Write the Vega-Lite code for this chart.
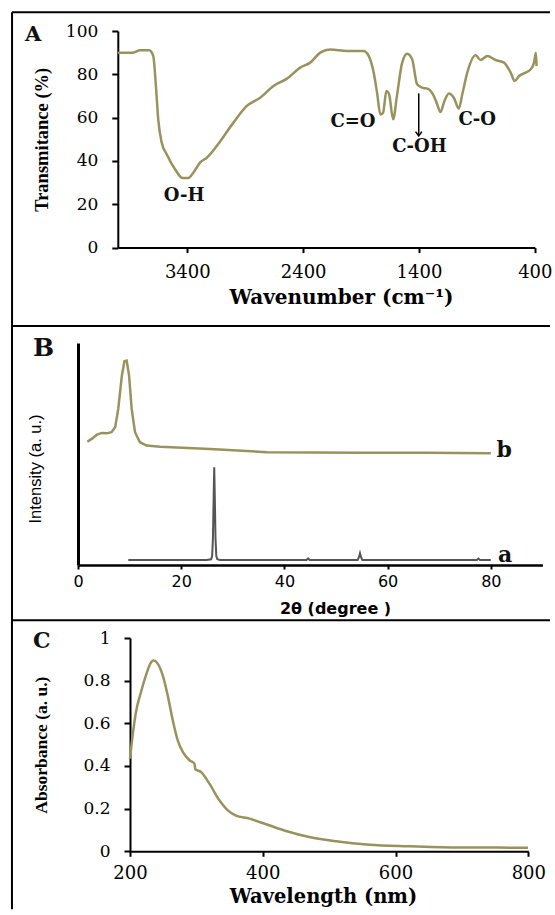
{
  "$schema": "https://vega.github.io/schema/vega-lite/v6.json",
  "background": "white",
  "padding": {"left": 10, "top": 11, "right": 0, "bottom": 0},
  "columns": 1,
  "align": "none",
  "spacing": -5,
  "config": {
    "view": {"stroke": null},
    "axis": {"grid": false, "domainColor": "black", "tickColor": "black", "labelColor": "black", "titleColor": "black", "labelOverlap": false, "labelFlush": false}
  },
  "datasets": {
    "one": [{}],
    "ftir": [
      {"wn": 4000, "T": 90.0}, {"wn": 3867, "T": 90.0}, {"wn": 3809, "T": 91.1}, {"wn": 3729, "T": 91.1}, {"wn": 3694, "T": 88.5},
      {"wn": 3671, "T": 74.6}, {"wn": 3651, "T": 59.2}, {"wn": 3621, "T": 48.5}, {"wn": 3578, "T": 43.1}, {"wn": 3506, "T": 36.2},
      {"wn": 3440, "T": 32.1}, {"wn": 3391, "T": 32.1}, {"wn": 3348, "T": 34.6}, {"wn": 3290, "T": 39.2}, {"wn": 3232, "T": 41.5},
      {"wn": 3146, "T": 46.9}, {"wn": 3002, "T": 57.7}, {"wn": 2886, "T": 65.4}, {"wn": 2771, "T": 69.2}, {"wn": 2656, "T": 74.6},
      {"wn": 2540, "T": 78.0}, {"wn": 2425, "T": 83.1}, {"wn": 2339, "T": 85.4}, {"wn": 2252, "T": 90.0}, {"wn": 2166, "T": 91.5},
      {"wn": 2021, "T": 90.8}, {"wn": 1878, "T": 90.8}, {"wn": 1834, "T": 88.5}, {"wn": 1791, "T": 80.8}, {"wn": 1762, "T": 71.6},
      {"wn": 1733, "T": 61.5}, {"wn": 1710, "T": 62.3}, {"wn": 1681, "T": 72.3}, {"wn": 1658, "T": 70.8}, {"wn": 1623, "T": 59.2},
      {"wn": 1589, "T": 70.5}, {"wn": 1545, "T": 85.4}, {"wn": 1502, "T": 89.5}, {"wn": 1459, "T": 87.0}, {"wn": 1416, "T": 75.4},
      {"wn": 1373, "T": 73.9}, {"wn": 1315, "T": 73.1}, {"wn": 1272, "T": 70.0}, {"wn": 1243, "T": 66.2}, {"wn": 1214, "T": 62.6},
      {"wn": 1180, "T": 67.7}, {"wn": 1142, "T": 71.2}, {"wn": 1099, "T": 69.2}, {"wn": 1056, "T": 64.2}, {"wn": 1026, "T": 70.8},
      {"wn": 983, "T": 80.8}, {"wn": 911, "T": 88.8}, {"wn": 868, "T": 86.6}, {"wn": 810, "T": 88.5}, {"wn": 738, "T": 86.6},
      {"wn": 666, "T": 85.4}, {"wn": 608, "T": 80.8}, {"wn": 574, "T": 76.9}, {"wn": 536, "T": 79.2}, {"wn": 479, "T": 80.8},
      {"wn": 435, "T": 82.3}, {"wn": 407, "T": 85.4}, {"wn": 390, "T": 90.0}, {"wn": 385, "T": 83.8}
    ],
    "ftirLabels": [
      {"label": "O-H", "wn": 3427, "T": 21.5},
      {"label": "C=O", "wn": 1970, "T": 55.9},
      {"label": "C-OH", "wn": 1396, "T": 44.1},
      {"label": "C-O", "wn": 897, "T": 56.6}
    ],
    "panelA": [{"label": "A", "wn": 4801, "T": 95.2}],
    "xrd": [
      {"sample": "b", "theta": 1.8, "I": 55.5}, {"sample": "b", "theta": 2.65, "I": 56.8}, {"sample": "b", "theta": 3.6, "I": 58.6},
      {"sample": "b", "theta": 4.6, "I": 59.5}, {"sample": "b", "theta": 5.55, "I": 59.3}, {"sample": "b", "theta": 6.5, "I": 59.8},
      {"sample": "b", "theta": 7.2, "I": 62.0}, {"sample": "b", "theta": 7.8, "I": 70.3}, {"sample": "b", "theta": 8.5, "I": 85.3},
      {"sample": "b", "theta": 9.0, "I": 91.8}, {"sample": "b", "theta": 9.43, "I": 92.1}, {"sample": "b", "theta": 9.9, "I": 85.3},
      {"sample": "b", "theta": 10.4, "I": 70.3}, {"sample": "b", "theta": 11.05, "I": 59.8}, {"sample": "b", "theta": 12.0, "I": 55.3},
      {"sample": "b", "theta": 13.3, "I": 53.8}, {"sample": "b", "theta": 15.9, "I": 53.3}, {"sample": "b", "theta": 25.6, "I": 52.3},
      {"sample": "b", "theta": 36.6, "I": 50.8}, {"sample": "b", "theta": 54.7, "I": 50.6}, {"sample": "b", "theta": 67.6, "I": 50.6},
      {"sample": "b", "theta": 80.0, "I": 50.3},
      {"sample": "a", "theta": 9.75, "I": 2.25}, {"sample": "a", "theta": 15.0, "I": 2.3}, {"sample": "a", "theta": 20.0, "I": 2.2},
      {"sample": "a", "theta": 24.9, "I": 2.3}, {"sample": "a", "theta": 25.8, "I": 2.6}, {"sample": "a", "theta": 26.0, "I": 4.0},
      {"sample": "a", "theta": 26.15, "I": 12.0}, {"sample": "a", "theta": 26.3, "I": 32.0}, {"sample": "a", "theta": 26.4, "I": 44.0},
      {"sample": "a", "theta": 26.5, "I": 32.0}, {"sample": "a", "theta": 26.65, "I": 12.0}, {"sample": "a", "theta": 26.8, "I": 4.0},
      {"sample": "a", "theta": 27.0, "I": 2.6}, {"sample": "a", "theta": 27.5, "I": 2.3}, {"sample": "a", "theta": 35.0, "I": 2.2},
      {"sample": "a", "theta": 44.3, "I": 2.3}, {"sample": "a", "theta": 44.6, "I": 3.0}, {"sample": "a", "theta": 44.9, "I": 2.3},
      {"sample": "a", "theta": 54.2, "I": 2.3}, {"sample": "a", "theta": 54.45, "I": 3.5}, {"sample": "a", "theta": 54.65, "I": 5.3},
      {"sample": "a", "theta": 54.85, "I": 3.5}, {"sample": "a", "theta": 55.1, "I": 2.3}, {"sample": "a", "theta": 65.0, "I": 2.2},
      {"sample": "a", "theta": 77.3, "I": 2.3}, {"sample": "a", "theta": 77.6, "I": 2.9}, {"sample": "a", "theta": 77.9, "I": 2.3},
      {"sample": "a", "theta": 80.0, "I": 2.2}
    ],
    "xrdLabels": [
      {"label": "b", "theta": 82.6, "I": 48.6},
      {"label": "a", "theta": 82.8, "I": 1.35}
    ],
    "panelB": [{"label": "B", "theta": -8.72, "I": 94.1}],
    "uv": [
      {"nm": 200, "A": 0.435}, {"nm": 204, "A": 0.544}, {"nm": 209, "A": 0.653}, {"nm": 216.6, "A": 0.747}, {"nm": 224, "A": 0.825},
      {"nm": 231.6, "A": 0.885}, {"nm": 235.7, "A": 0.894}, {"nm": 241.7, "A": 0.88}, {"nm": 249.3, "A": 0.825}, {"nm": 256.8, "A": 0.731},
      {"nm": 264.4, "A": 0.614}, {"nm": 271.9, "A": 0.52}, {"nm": 279.5, "A": 0.466}, {"nm": 289.5, "A": 0.427}, {"nm": 297, "A": 0.411},
      {"nm": 298.5, "A": 0.384}, {"nm": 307, "A": 0.372}, {"nm": 319.6, "A": 0.317}, {"nm": 334.7, "A": 0.239}, {"nm": 347.3, "A": 0.192},
      {"nm": 358.8, "A": 0.169}, {"nm": 380, "A": 0.153}, {"nm": 405, "A": 0.127}, {"nm": 435, "A": 0.095}, {"nm": 470, "A": 0.067},
      {"nm": 510.4, "A": 0.047}, {"nm": 560.6, "A": 0.031}, {"nm": 621, "A": 0.024}, {"nm": 696.4, "A": 0.018}, {"nm": 799.5, "A": 0.017}
    ],
    "panelC": [{"label": "C", "nm": 53.9, "A": 0.952}]
  },
  "concat": [
    {
      "width": 405,
      "height": 216.6,
      "layer": [
        {
          "data": {"name": "one"},
          "mark": {"type": "rule", "color": "black", "strokeWidth": 2},
          "encoding": {
            "x": {"datum": 4913, "type": "quantitative", "scale": {"domain": [400, 4000], "range": [404.8, -12.2], "nice": false, "zero": false}},
            "y": {"datum": 108.6, "type": "quantitative", "scale": {"domain": [0, 100], "nice": false, "zero": false}},
            "y2": {"datum": -36.8}
          }
        },
        {
          "data": {"name": "one"},
          "mark": {"type": "rule", "color": "black", "strokeWidth": 2},
          "encoding": {
            "x": {"datum": 4913, "type": "quantitative", "scale": {"domain": [400, 4000], "range": [404.8, -12.2], "nice": false, "zero": false}},
            "x2": {"datum": 269},
            "y": {"datum": 108.6, "type": "quantitative", "scale": {"domain": [0, 100], "nice": false, "zero": false}}
          }
        },
        {
          "data": {"name": "ftir"},
          "mark": {"type": "line", "color": "#9a925e", "strokeWidth": 2.5, "interpolate": "monotone"},
          "encoding": {
            "x": {
              "field": "wn", "type": "quantitative",
              "scale": {"domain": [400, 4000], "range": [404.8, -12.2], "nice": false, "zero": false},
              "axis": {"values": [3400, 2400, 1400, 400], "format": "d", "title": "Wavenumber (cm⁻¹)", "titleX": 211, "labelFont": "DejaVu Serif", "labelFontSize": 18, "titleFont": "DejaVu Serif", "titleFontSize": 20, "titleFontWeight": "bold", "tickSize": 5, "tickWidth": 2, "domainWidth": 2, "labelPadding": 11, "titlePadding": 6}
            },
            "y": {
              "field": "T", "type": "quantitative",
              "scale": {"domain": [0, 100], "nice": false, "zero": false},
              "axis": {"values": [0, 20, 40, 60, 80, 100], "offset": 12.2, "title": "Transmitance (%)", "labelFont": "DejaVu Serif", "labelFontSize": 17, "titleFont": "Liberation Serif", "titleFontSize": 18.5, "titleFontWeight": "bold", "tickSize": 6, "tickWidth": 2, "domainWidth": 2, "labelPadding": 14, "titlePadding": 14}
            }
          }
        },
        {
          "data": {"name": "ftirLabels"},
          "mark": {"type": "text", "font": "DejaVu Serif", "fontWeight": "bold", "fontSize": 18, "align": "center", "baseline": "alphabetic", "color": "#111111"},
          "encoding": {
            "x": {"field": "wn", "type": "quantitative", "scale": {"domain": [400, 4000], "range": [404.8, -12.2], "nice": false, "zero": false}},
            "y": {"field": "T", "type": "quantitative", "scale": {"domain": [0, 100], "nice": false, "zero": false}},
            "text": {"field": "label"}
          }
        },
        {
          "data": {"name": "panelA"},
          "mark": {"type": "text", "font": "DejaVu Serif", "fontWeight": "bold", "fontSize": 21, "align": "left", "baseline": "alphabetic", "color": "#111111"},
          "encoding": {
            "x": {"field": "wn", "type": "quantitative", "scale": {"domain": [400, 4000], "range": [404.8, -12.2], "nice": false, "zero": false}},
            "y": {"field": "T", "type": "quantitative", "scale": {"domain": [0, 100], "nice": false, "zero": false}},
            "text": {"field": "label"}
          }
        },
        {
          "data": {"name": "one"},
          "mark": {"type": "rule", "color": "black", "strokeWidth": 1.5},
          "encoding": {
            "x": {"datum": 1402, "type": "quantitative", "scale": {"domain": [400, 4000], "range": [404.8, -12.2], "nice": false, "zero": false}},
            "y": {"datum": 71.2, "type": "quantitative", "scale": {"domain": [0, 100], "nice": false, "zero": false}},
            "y2": {"datum": 51.8}
          }
        },
        {
          "data": {"name": "one"},
          "mark": {"type": "point", "shape": "M-1,-1.4L0,0L1,-1.4", "filled": false, "stroke": "black", "strokeWidth": 1.5, "size": 40, "opacity": 1},
          "encoding": {
            "x": {"datum": 1402, "type": "quantitative", "scale": {"domain": [400, 4000], "range": [404.8, -12.2], "nice": false, "zero": false}},
            "y": {"datum": 51.5, "type": "quantitative", "scale": {"domain": [0, 100], "nice": false, "zero": false}}
          }
        }
      ]
    },
    {
      "width": 412.4,
      "height": 222,
      "layer": [
        {
          "data": {"name": "one"},
          "mark": {"type": "rule", "color": "black", "strokeWidth": 2},
          "encoding": {
            "x": {"datum": -12.79, "type": "quantitative", "scale": {"domain": [0, 90], "range": [-52, 412.4], "nice": false, "zero": false}},
            "y": {"datum": 107.66, "type": "quantitative", "scale": {"domain": [0, 100], "nice": false, "zero": false}},
            "y2": {"datum": -26.1}
          }
        },
        {
          "data": {"name": "one"},
          "mark": {"type": "rule", "color": "black", "strokeWidth": 2},
          "encoding": {
            "x": {"datum": -12.79, "type": "quantitative", "scale": {"domain": [0, 90], "range": [-52, 412.4], "nice": false, "zero": false}},
            "x2": {"datum": 91.47},
            "y": {"datum": 107.66, "type": "quantitative", "scale": {"domain": [0, 100], "nice": false, "zero": false}}
          }
        },
        {
          "data": {"name": "xrd"},
          "mark": {"type": "line"},
          "encoding": {
            "x": {
              "field": "theta", "type": "quantitative",
              "scale": {"domain": [0, 90], "range": [-52, 412.4], "nice": false, "zero": false},
              "axis": {"values": [0, 20, 40, 60, 80], "title": "2θ (degree )", "titleX": 205, "labelFont": "DejaVu Sans", "labelFontSize": 16, "titleFont": "DejaVu Sans", "titleFontSize": 16, "titleFontWeight": "bold", "tickSize": 4, "tickWidth": 2, "domainWidth": 2.5, "labelPadding": 4, "titlePadding": 11}
            },
            "y": {
              "field": "I", "type": "quantitative",
              "scale": {"domain": [0, 100], "nice": false, "zero": false},
              "axis": {"labels": false, "ticks": false, "offset": 52, "title": "Intensity (a. u.)", "titleY": 125.5, "titleFont": "Liberation Sans", "titleFontSize": 16.5, "titleFontWeight": "normal", "domainWidth": 3, "titlePadding": 35}
            },
            "color": {"field": "sample", "type": "nominal", "scale": {"domain": ["a", "b"], "range": ["#555555", "#9a925e"]}, "legend": null},
            "strokeWidth": {"field": "sample", "type": "nominal", "scale": {"domain": ["a", "b"], "range": [2, 2.5]}, "legend": null}
          }
        },
        {
          "data": {"name": "xrdLabels"},
          "mark": {"type": "text", "font": "DejaVu Serif", "fontWeight": "bold", "fontSize": 22, "align": "center", "baseline": "alphabetic", "color": "#111111"},
          "encoding": {
            "x": {"field": "theta", "type": "quantitative", "scale": {"domain": [0, 90], "range": [-52, 412.4], "nice": false, "zero": false}},
            "y": {"field": "I", "type": "quantitative", "scale": {"domain": [0, 100], "nice": false, "zero": false}},
            "text": {"field": "label"}
          }
        },
        {
          "data": {"name": "panelB"},
          "mark": {"type": "text", "font": "DejaVu Serif", "fontWeight": "bold", "fontSize": 25, "align": "left", "baseline": "alphabetic", "color": "#111111"},
          "encoding": {
            "x": {"field": "theta", "type": "quantitative", "scale": {"domain": [0, 90], "range": [-52, 412.4], "nice": false, "zero": false}},
            "y": {"field": "I", "type": "quantitative", "scale": {"domain": [0, 100], "nice": false, "zero": false}},
            "text": {"field": "label"}
          }
        }
      ]
    },
    {
      "width": 398.3,
      "height": 213.3,
      "layer": [
        {
          "data": {"name": "one"},
          "mark": {"type": "rule", "color": "black", "strokeWidth": 2},
          "encoding": {
            "x": {"datum": 22.2, "type": "quantitative", "scale": {"domain": [200, 800], "nice": false, "zero": false}},
            "y": {"datum": 1.083, "type": "quantitative", "scale": {"domain": [0, 1], "nice": false, "zero": false}},
            "y2": {"datum": -0.272}
          }
        },
        {
          "data": {"name": "one"},
          "mark": {"type": "rule", "color": "black", "strokeWidth": 2},
          "encoding": {
            "x": {"datum": 22.2, "type": "quantitative", "scale": {"domain": [200, 800], "nice": false, "zero": false}},
            "x2": {"datum": 832.7},
            "y": {"datum": 1.083, "type": "quantitative", "scale": {"domain": [0, 1], "nice": false, "zero": false}}
          }
        },
        {
          "data": {"name": "uv"},
          "mark": {"type": "line", "color": "#9a925e", "strokeWidth": 2.5, "interpolate": "monotone"},
          "encoding": {
            "x": {
              "field": "nm", "type": "quantitative",
              "scale": {"domain": [200, 800], "nice": false, "zero": false},
              "axis": {"values": [200, 400, 600, 800], "title": "Wavelength (nm)", "titleX": 193, "labelFont": "DejaVu Serif", "labelFontSize": 18, "titleFont": "DejaVu Serif", "titleFontSize": 19.5, "titleFontWeight": "bold", "tickSize": 5, "tickWidth": 2, "domainWidth": 2, "labelPadding": 8, "titlePadding": 5}
            },
            "y": {
              "field": "A", "type": "quantitative",
              "scale": {"domain": [0, 1], "nice": false, "zero": false},
              "axis": {"values": [0, 0.2, 0.4, 0.6, 0.8, 1], "format": "~g", "title": "Absorbance (a. u.)", "labelFont": "DejaVu Serif", "labelFontSize": 17, "titleFont": "Liberation Serif", "titleFontSize": 17.5, "titleFontWeight": "bold", "tickSize": 6, "tickWidth": 2, "domainWidth": 2, "labelPadding": 14, "titlePadding": 32}
            }
          }
        },
        {
          "data": {"name": "panelC"},
          "mark": {"type": "text", "font": "DejaVu Serif", "fontWeight": "bold", "fontSize": 22, "align": "left", "baseline": "alphabetic", "color": "#111111"},
          "encoding": {
            "x": {"field": "nm", "type": "quantitative", "scale": {"domain": [200, 800], "nice": false, "zero": false}},
            "y": {"field": "A", "type": "quantitative", "scale": {"domain": [0, 1], "nice": false, "zero": false}},
            "text": {"field": "label"}
          }
        }
      ]
    }
  ]
}
